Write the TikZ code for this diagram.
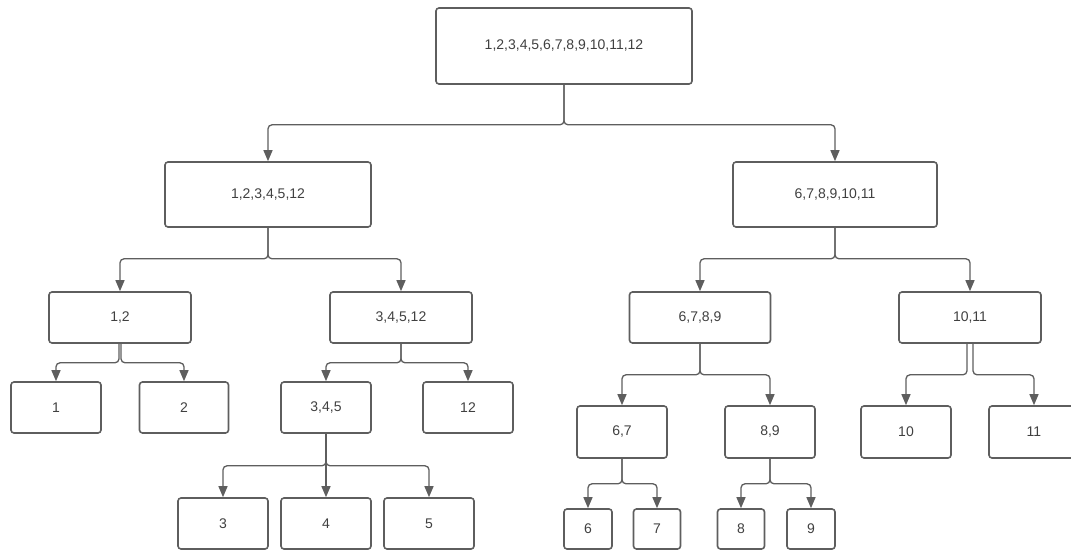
\documentclass[tikz,border=0pt]{standalone}
\usepackage{fontspec}
\setmainfont{Liberation Sans}
\usetikzlibrary{arrows.meta}
\definecolor{linegrey}{HTML}{5E5E5E}
\definecolor{textgrey}{HTML}{404040}
\tikzset{
	box/.style={draw=linegrey, line width=1.6pt, rounded corners=3pt, text=textgrey,
		font=\fontsize{14}{16}\selectfont, inner sep=0pt},
	link/.style={draw=linegrey, line width=1.3pt, rounded corners=4pt,
		-{Triangle[length=11pt,width=9pt]}},
}
\def\branch(#1)(#2)(#3:#4){\draw[link] ([xshift=#4]#1.south) -- ++(0,#3) -| (#2.north);}

\begin{document}
\begin{tikzpicture}[x=1pt, y=-1pt]
		%%%%% START %%%%%
		\useasboundingbox (0,0) rectangle (1071,551);
		\clip (0,0) rectangle (1071,551);
		
		\node[box, minimum width=256, minimum height=76] (root) at (564,46) {1,2,3,4,5,6,7,8,9,10,11,12};
		
		\node[box, minimum width=206, minimum height=65] (left) at (268,194.5) {1,2,3,4,5,12};
		\node[box, minimum width=204, minimum height=65] (right) at (835,194.5) {6,7,8,9,10,11};
		
		\node[box, minimum width=142, minimum height=51] (n12) at (120,317.5) {1,2};
		\node[box, minimum width=142, minimum height=51] (n34512) at (401,317.5) {3,4,5,12};
		\node[box, minimum width=141, minimum height=51] (n6789) at (700,317.5) {6,7,8,9};
		\node[box, minimum width=142, minimum height=51] (n1011) at (970,317.5) {10,11};
		
		\node[box, minimum width=90, minimum height=51] (n1) at (56,407.5) {1};
		\node[box, minimum width=89, minimum height=51] (n2) at (184,407.5) {2};
		\node[box, minimum width=90, minimum height=51] (n345) at (326,407.5) {3,4,5};
		\node[box, minimum width=90, minimum height=51] (n12b) at (468,407.5) {12};
		\node[box, minimum width=90, minimum height=52] (n67) at (622,432) {6,7};
		\node[box, minimum width=90, minimum height=52] (n89) at (770,432) {8,9};
		\node[box, minimum width=90, minimum height=52] (n10) at (906,432) {10};
		\node[box, minimum width=90, minimum height=52] (n11) at (1034,432) {11};
		
		\node[box, minimum width=90, minimum height=51] (n3) at (223,523.5) {3};
		\node[box, minimum width=90, minimum height=51] (n4) at (326,523.5) {4};
		\node[box, minimum width=90, minimum height=51] (n5) at (429,523.5) {5};
		\node[box, minimum width=48, minimum height=40] (n6) at (588,529) {6};
		\node[box, minimum width=47, minimum height=40] (n7) at (657,529) {7};
		\node[box, minimum width=47, minimum height=40] (n8) at (741,529) {8};
		\node[box, minimum width=48, minimum height=40] (n9) at (811,529) {9};
		
		\branch(root)(left)(40:0)
		\branch(root)(right)(40:0)
		
		\branch(left)(n12)(31:0)
		\branch(left)(n34512)(31:0)
		\branch(right)(n6789)(31:0)
		\branch(right)(n1011)(31:0)
		
		\branch(n12)(n1)(19:-1)
		\branch(n12)(n2)(19:1)
		\branch(n34512)(n345)(19:0)
		\branch(n34512)(n12b)(19:0)
		\branch(n6789)(n67)(31:0)
		\branch(n6789)(n89)(31:0)
		\branch(n1011)(n10)(31:-3)
		\branch(n1011)(n11)(31:3)
		
		\branch(n345)(n3)(32:0)
		\draw[link] (n345.south) -- (n4.north);
		\branch(n345)(n5)(32:0)
		\branch(n67)(n6)(25:0)
		\branch(n67)(n7)(25:0)
		\branch(n89)(n8)(25:0)
		\branch(n89)(n9)(25:0)
		
		%%%%% END %%%%%
\end{tikzpicture}
\end{document}
